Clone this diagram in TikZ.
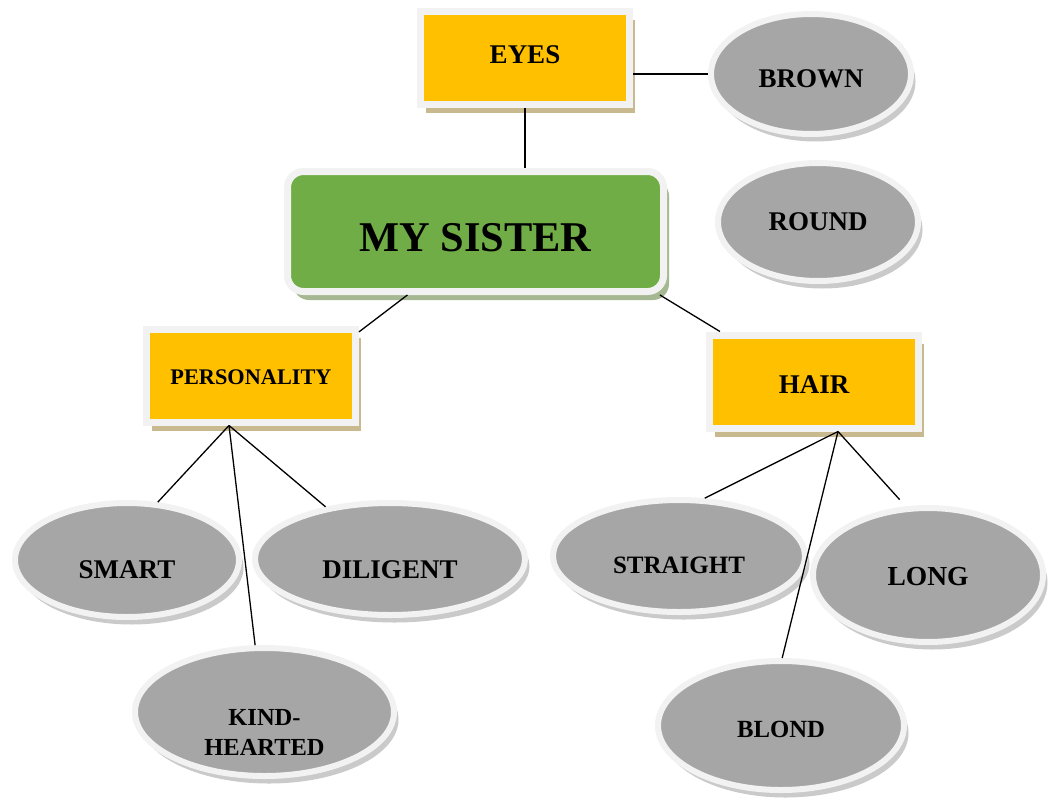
\documentclass[tikz,border=0pt]{standalone}
\usepackage{fontspec}
\setmainfont{Liberation Serif}
\usetikzlibrary{shapes.geometric,shadows,calc}

\definecolor{boxorange}{HTML}{FFC000}
\definecolor{boxgreen}{HTML}{70AD47}
\definecolor{ovalgray}{HTML}{A6A6A6}
\definecolor{rimgray}{HTML}{F2F2F2}
\definecolor{tanshadow}{HTML}{C9B98F}
\definecolor{greenshadow}{HTML}{A6B892}
\definecolor{grayshadow}{HTML}{CACACA}

\tikzset{
  fs/.style={font=\fontsize{#1pt}{30pt}\selectfont\bfseries},
  topic/.style={rectangle, fill=boxorange, draw=rimgray, line width=7pt,
    inner sep=0pt, minimum width=209pt, minimum height=93pt, fs=27,
    general shadow={fill=tanshadow, shadow xshift=5.5pt, shadow yshift=-8.5pt}},
  core/.style={rectangle, rounded corners=16pt, fill=boxgreen, draw=rimgray,
    line width=7pt, inner sep=0pt, minimum width=376pt, minimum height=120pt,
    fs=42.4,
    general shadow={fill=greenshadow, shadow xshift=5.5pt, shadow yshift=-8.5pt}},
  oval/.style={ellipse, fill=ovalgray, draw=rimgray, line width=6pt,
    inner sep=0pt, fs=27,
    general shadow={fill=grayshadow, shadow xshift=4.5pt, shadow yshift=-7.5pt}},
  link/.style={draw=black, line width=1.3pt},
}

\begin{document}
\begin{tikzpicture}[x=1pt, y=-1pt]
\useasboundingbox (0,0) rectangle (1051,800);

% central topic
\node[core, text height=41pt] (sister) at (475.5,231.5) {MY SISTER};

% category boxes
\node[topic, text depth=6pt] (eyes) at (525,58) {EYES};
\node[topic, fs=22.3, text height=18.8pt] (pers) at (251,375.5) {PERSONALITY};
\node[topic, text height=24.9pt] (hair) at (814,381.5) {HAIR};

% eye descriptions
\node[oval, minimum width=200pt, minimum height=120pt, text height=28pt]
  (brown) at (811,74) {BROWN};
\node[oval, minimum width=200pt, minimum height=118pt] (round) at (818,222) {ROUND};

% personality traits
\node[oval, minimum width=224pt, minimum height=114pt, text height=36.9pt]
  (smart) at (127,560) {SMART};
\node[oval, minimum width=270pt, minimum height=112pt, text height=39.9pt]
  (dil) at (390,559) {DILIGENT};
\node[oval, fs=24.5, align=center, minimum width=259pt, minimum height=128pt,
  text height=86pt, text depth=0pt] (kind) at (264.5,712) {KIND-\\HEARTED};

% hair descriptions
\node[oval, fs=25, minimum width=252pt, minimum height=112pt, text height=34.5pt]
  (straight) at (679,556) {STRAIGHT};
\node[oval, fs=27.5, minimum width=230pt, minimum height=134pt, text height=22.2pt]
  (long) at (928,575) {LONG};
\node[oval, fs=24.7, minimum width=246pt, minimum height=129pt, text height=24.4pt]
  (blond) at (781,725.5) {BLOND};

% branching points under the category boxes
\coordinate (ph) at ($(pers.south)+(-22,0)$);
\coordinate (hh) at ($(hair.south)+(24,0)$);

% connectors
\draw[link] (eyes.south) -- (eyes.south |- sister.north);
\draw[link] (eyes.east |- brown.west) -- (brown.west);
\draw[link] (sister.223) -- (pers.22);
\draw[link] (sister.-19) -- (hair.152);
\draw[link] (ph) -- (smart.62);
\draw[link] (ph) -- (kind.98);
\draw[link] (ph) -- (dil.141);
\draw[link] (hh) -- (straight.66);
\draw[link] (hh) -- (blond.89);
\draw[link, shorten >=9pt] (hh) -- (long.108);
\end{tikzpicture}
\end{document}
